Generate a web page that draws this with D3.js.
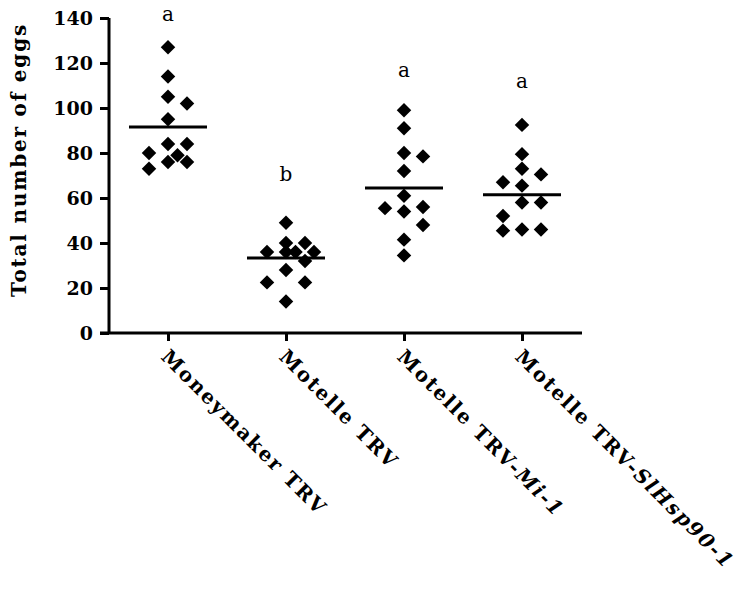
<!DOCTYPE html>
<html>
<head>
<meta charset="utf-8">
<script src="https://cdn.jsdelivr.net/npm/d3@7"></script>
<style>
  body { margin: 0; background: white; }
  text { font-family: "DejaVu Serif", serif; }
</style>
</head>
<body>
<svg id="chart" width="746" height="595"></svg>
<script>
// Data
var groups = ['Moneymaker TRV', 'Motelle TRV', 'Motelle TRV-', 'Motelle TRV-'];
var italicPart = ['', '', 'Mi-1', 'SlHsp90-1'];
var eggs = [
    [127, 114, 105, 95, 102, 84, 84, 80, 79, 76, 76, 73],
    [49, 40, 40, 36, 36, 36, 36, 32, 28, 22.5, 22.5, 14],
    [99, 91, 80, 78.5, 72, 61, 56, 54, 55.5, 48, 41.5, 34.5],
    [92.5, 79.5, 73, 70.5, 67, 65.5, 58, 58, 52, 46, 46, 45.5]
];
var means = [91.6, 33.3, 64.4, 61.5];
var letters = ['a', 'b', 'a', 'a'];
var letterPos = [138.5, 67.5, 114, 109];
var yTicks = [0, 20, 40, 60, 80, 100, 120, 140];

var svg = d3.select('#chart');

// scales
var y = d3.scaleLinear().domain([0, 140]).range([333, 18]);
var x = d3.scalePoint().domain(d3.range(groups.length)).range([168, 522]);

// y axis
var yAxis = svg.append('g')
    .attr('transform', 'translate(109,0)')
    .call(d3.axisLeft(y).tickValues(yTicks).tickSize(9).tickPadding(7));
yAxis.select('.domain').attr('stroke-width', 3).attr('d', 'M0,' + y(140) + 'V' + y(0));
yAxis.selectAll('.tick line').attr('stroke-width', 3);
yAxis.selectAll('.tick text').attr('font-size', 19).attr('font-weight', 'bold')
    .attr('font-family', '"DejaVu Serif", serif');

// x axis
var xAxis = svg.append('g')
    .attr('transform', 'translate(0,' + y(0) + ')')
    .call(d3.axisBottom(x).tickSize(8).tickFormat(''));
xAxis.select('.domain').attr('stroke-width', 3).attr('d', 'M100,0H582');
xAxis.selectAll('.tick line').attr('stroke-width', 3);

// x labels
groups.forEach(function (g, i) {
    var t = svg.append('text')
        .attr('transform', 'translate(' + (x(i) - 8) + ',358) rotate(45)')
        .attr('font-size', 20).attr('font-weight', 'bold')
        .attr('letter-spacing', 1.8)
        .text(g);
    if (italicPart[i]) t.append('tspan').attr('font-style', 'italic').text(italicPart[i]);
});

// y title
svg.append('text')
    .attr('transform', 'translate(26,160) rotate(-90)')
    .attr('text-anchor', 'middle')
    .attr('font-size', 20).attr('font-weight', 'bold')
    .attr('letter-spacing', 1.8)
    .text('Total number of eggs');

// dodge points so they don't overlap
function dodge(vals) {
    var placed = [];
    return vals.map(function (v) {
        var py = y(v), offs = [0, 19, -19, -9.5, 9.5, -28, 28];
        for (var k = 0; k < offs.length; k++) {
            var ok = placed.every(function (p) {
                return Math.abs(p[0] - offs[k]) + Math.abs(p[1] - py) > 14;
            });
            if (ok) { placed.push([offs[k], py]); return offs[k]; }
        }
        placed.push([0, py]);
        return 0;
    });
}

var diamond = d3.symbol().type(d3.symbolSquare).size(105);

eggs.forEach(function (vals, i) {
    var offs = dodge(vals);
    svg.append('g').selectAll('path')
        .data(vals)
        .enter().append('path')
        .attr('d', diamond)
        .attr('transform', function (d, j) {
            return 'translate(' + (x(i) + offs[j]) + ',' + y(d) + ') rotate(45)';
        })
        .attr('fill', 'black');

    svg.append('line')
        .attr('x1', x(i) - 39).attr('x2', x(i) + 39)
        .attr('y1', y(means[i])).attr('y2', y(means[i]))
        .attr('stroke', 'black').attr('stroke-width', 3);

    svg.append('text')
        .attr('x', x(i)).attr('y', y(letterPos[i]))
        .attr('text-anchor', 'middle')
        .attr('font-size', 20)
        .text(letters[i]);
});
</script>
</body>
</html>
